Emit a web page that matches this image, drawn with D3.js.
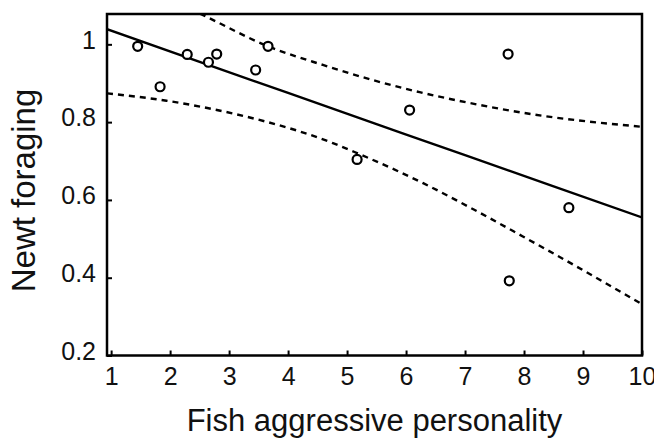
<!DOCTYPE html>
<html>
<head>
<meta charset="utf-8">
<script src="https://cdn.jsdelivr.net/npm/d3@7"></script>
<style>
  html, body { margin: 0; padding: 0; background: #fff; }
  svg { display: block; }
  text { font-family: "Liberation Sans", Arial, Helvetica, sans-serif; fill: #111; }
</style>
</head>
<body>
<svg id="chart" width="654" height="439"></svg>
<script>
// ---- data ----
const pointX = [1.45, 1.83, 2.29, 2.65, 2.79, 3.45, 3.66, 5.17, 6.06, 7.73, 7.75, 8.76];
const pointY = [0.995, 0.891, 0.974, 0.954, 0.975, 0.934, 0.995, 0.704, 0.831, 0.975, 0.392, 0.580];

const fitX = [0.93, 4, 7, 10];
const fitY = [1.039, 0.875, 0.715, 0.555];

const upperX = [2.0, 2.56, 3.66, 4.59, 5.44, 6.23, 7.02, 8.15, 10.0];
const upperY = [1.115, 1.075, 0.995, 0.947, 0.908, 0.877, 0.851, 0.820, 0.788];

const lowerX = [0.93, 1.94, 3.07, 3.63, 4.20, 4.76, 5.16, 5.89, 6.29, 7.14, 7.98, 8.83, 9.68, 10.0];
const lowerY = [0.874, 0.855, 0.822, 0.801, 0.776, 0.746, 0.721, 0.672, 0.643, 0.576, 0.506, 0.434, 0.360, 0.332];

const xTicks = [1, 2, 3, 4, 5, 6, 7, 8, 9, 10];
const yTicks = [0.2, 0.4, 0.6, 0.8, 1];
const xDomain = [0.93, 10];
const yDomain = [0.2, 1.078];
const xTitle = "Fish aggressive personality";
const yTitle = "Newt foraging";

// ---- layout ----
const L = 107, R = 642, T = 14, B = 355.5;
const svg = d3.select("#chart");
const x = d3.scaleLinear().domain(xDomain).range([L, R]);
const y = d3.scaleLinear().domain(yDomain).range([B, T]);

svg.append("defs").append("clipPath").attr("id", "plotclip")
  .append("rect").attr("x", L).attr("y", T).attr("width", R - L).attr("height", B - T);

const plot = svg.append("g").attr("clip-path", "url(#plotclip)");

const line = d3.line().x(d => x(d[0])).y(d => y(d[1])).curve(d3.curveMonotoneX);

plot.append("path")
  .datum(d3.zip(fitX, fitY))
  .attr("d", line)
  .attr("fill", "none").attr("stroke", "#000").attr("stroke-width", 2.4);

plot.append("path")
  .datum(d3.zip(upperX, upperY))
  .attr("d", line)
  .attr("fill", "none").attr("stroke", "#000").attr("stroke-width", 2.4)
  .attr("stroke-dasharray", "6,5");

plot.append("path")
  .datum(d3.zip(lowerX, lowerY))
  .attr("d", line)
  .attr("fill", "none").attr("stroke", "#000").attr("stroke-width", 2.4)
  .attr("stroke-dasharray", "6,5");

plot.selectAll("circle.pt")
  .data(d3.zip(pointX, pointY))
  .join("circle")
  .attr("class", "pt")
  .attr("cx", d => x(d[0])).attr("cy", d => y(d[1]))
  .attr("r", 4.5)
  .attr("fill", "#fff").attr("stroke", "#000").attr("stroke-width", 2.2);

// axes (ticks pointing inward)
const xAxis = d3.axisBottom(x).tickValues(xTicks).tickSize(-5).tickPadding(12).tickFormat(d3.format("d"));
const gx = svg.append("g").attr("transform", `translate(0,${B})`).call(xAxis);
gx.select(".domain").remove();
gx.selectAll(".tick line").attr("stroke", "#000").attr("stroke-width", 2);
gx.selectAll(".tick text").attr("font-size", 25).attr("font-family", "Liberation Sans, Arial, sans-serif").attr("fill", "#111");

const yAxis = d3.axisLeft(y).tickValues(yTicks).tickSize(-5).tickPadding(11).tickFormat(d => d === 1 ? "1" : d3.format(".1f")(d));
const gy = svg.append("g").attr("transform", `translate(${L},0)`).call(yAxis);
gy.select(".domain").remove();
gy.selectAll(".tick line").attr("stroke", "#000").attr("stroke-width", 2);
gy.selectAll(".tick text").attr("font-size", 25).attr("font-family", "Liberation Sans, Arial, sans-serif").attr("fill", "#111").attr("dy", "0.15em");

// frame
svg.append("rect")
  .attr("x", L).attr("y", T).attr("width", R - L).attr("height", B - T)
  .attr("fill", "none").attr("stroke", "#000").attr("stroke-width", 2.5);

// titles
svg.append("text")
  .attr("x", (L + R) / 2).attr("y", 431)
  .attr("text-anchor", "middle").attr("font-size", 31)
  .text(xTitle);

svg.append("text")
  .attr("transform", `translate(35,190.5) rotate(-90)`)
  .attr("text-anchor", "middle").attr("font-size", 33)
  .text(yTitle);
</script>
</body>
</html>
